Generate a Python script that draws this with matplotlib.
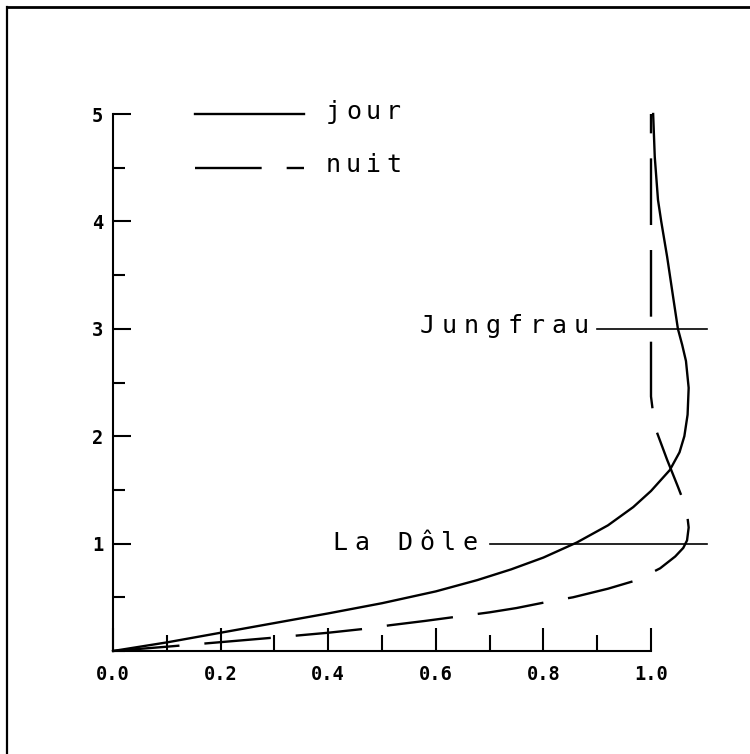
import matplotlib
matplotlib.use("Agg")
import matplotlib.pyplot as plt
from matplotlib.lines import Line2D
from matplotlib.ticker import MultipleLocator, FixedLocator

plt.rcParams['lines.scale_dashes'] = False

DPI = 100
W, H = 750, 754

# ---- data ----
jour_x = [0.00, 0.10, 0.20, 0.30, 0.40, 0.50, 0.60, 0.677, 0.74, 0.80, 0.862,
          0.92, 0.967, 1.00, 1.035, 1.053, 1.062, 1.068, 1.070, 1.065, 1.058,
          1.050, 1.041, 1.030, 1.019, 1.013, 1.007, 1.004]
jour_y = [0.00, 0.08, 0.17, 0.26, 0.35, 0.445, 0.555, 0.66, 0.76, 0.87, 1.01,
          1.17, 1.34, 1.49, 1.685, 1.85, 2.00, 2.20, 2.45, 2.70, 2.85,
          3.00, 3.30, 3.67, 4.00, 4.20, 4.60, 5.00]

nuit_x = [0.00, 0.10, 0.171, 0.30, 0.40, 0.465, 0.515, 0.58, 0.64, 0.70,
          0.75, 0.81, 0.855, 0.92, 0.974, 1.017, 1.045, 1.06, 1.067, 1.07, 1.067,
          1.06, 1.05, 1.03, 1.007, 1.00, 1.00, 1.00, 1.00]
nuit_y = [0.00, 0.04, 0.07, 0.125, 0.17, 0.205, 0.24, 0.28, 0.32, 0.36,
          0.40, 0.46, 0.50, 0.58, 0.66, 0.77, 0.88, 0.96, 1.03, 1.15, 1.28,
          1.40, 1.53, 1.78, 2.09, 2.37, 3.00, 4.00, 5.00]

series_labels = ["jour", "nuit"]
sites = ["Jungfrau", "La Dôle"]
site_levels = [3.0, 1.0]

x_major = [0.0, 0.2, 0.4, 0.6, 0.8, 1.0]
x_labels = ["0.0", "0.2", "0.4", "0.6", "0.8", "1.0"]
y_major = [1, 2, 3, 4, 5]
y_labels = ["1", "2", "3", "4", "5"]

# ---- figure ----
fig = plt.figure(figsize=(W / DPI, H / DPI), dpi=DPI)
ax = fig.add_axes([113 / W, 103 / H, 538 / W, 537 / H])
ax.set_xlim(0, 1.0)
ax.set_ylim(0, 5)
for s in ("top", "right"):
    ax.spines[s].set_visible(False)
for s in ("left", "bottom"):
    ax.spines[s].set_linewidth(1.5)

DASH = (0, (48, 18))
LW = 1.7

ax.plot(jour_x, jour_y, color="black", lw=LW, clip_on=False,
        solid_joinstyle="round")
ax.plot(nuit_x, nuit_y, color="black", lw=LW, linestyle=DASH, clip_on=False,
        dash_capstyle="butt", dash_joinstyle="round")

# ticks
ax.xaxis.set_major_locator(FixedLocator(x_major))
ax.xaxis.set_minor_locator(MultipleLocator(0.1))
ax.set_xticklabels(x_labels)
ax.yaxis.set_major_locator(FixedLocator(y_major))
ax.yaxis.set_minor_locator(MultipleLocator(0.5))
ax.set_yticklabels(y_labels)
ax.tick_params(axis="x", which="major", direction="in", length=16.5, width=1.5, pad=10)
ax.tick_params(axis="x", which="minor", direction="in", length=11.5, width=1.5)
ax.tick_params(axis="y", which="major", direction="in", length=13, width=1.5, pad=7)
ax.tick_params(axis="y", which="minor", direction="in", length=8.6, width=1.5)
for lab in ax.get_xticklabels() + ax.get_yticklabels():
    lab.set_family("DejaVu Sans Mono")
    lab.set_fontweight("bold")
    lab.set_fontsize(13.5)


def spaced(x, y, s, pitch_px, size=18):
    for i, ch in enumerate(s):
        if ch == " ":
            continue
        ax.annotate(ch, xy=(x, y), xytext=(i * pitch_px * 72 / DPI, 0),
                    textcoords="offset points", ha="center", va="baseline",
                    fontsize=size, family="DejaVu Sans Mono",
                    annotation_clip=False)


# legend (drawn by hand, as in the original)
ax.plot([0.152, 0.355], [5.0, 5.0], color="black", lw=LW, clip_on=False)
ax.plot([0.152, 0.355], [4.5, 4.5], color="black", lw=LW, linestyle=DASH,
        clip_on=False, dash_capstyle="butt")
spaced(0.41, 4.95, series_labels[0], 20)
spaced(0.41, 4.46, series_labels[1], 20)

# site markers
ax.plot([0.90, 1.104], [site_levels[0]] * 2, color="black", lw=1.2, clip_on=False)
ax.plot([0.70, 1.104], [site_levels[1]] * 2, color="black", lw=1.2, clip_on=False)
spaced(0.584, 2.96, sites[0], 22)
spaced(0.422, 0.94, sites[1], 21.7)

# page frame (top and left edges)
fig.add_artist(Line2D([7 / W, 1.0], [1 - 7 / H, 1 - 7 / H], color="black", lw=2,
                      transform=fig.transFigure))
fig.add_artist(Line2D([7 / W, 7 / W], [0, 1 - 7 / H], color="black", lw=1.6,
                      transform=fig.transFigure))

fig.savefig("out.png", dpi=DPI)
